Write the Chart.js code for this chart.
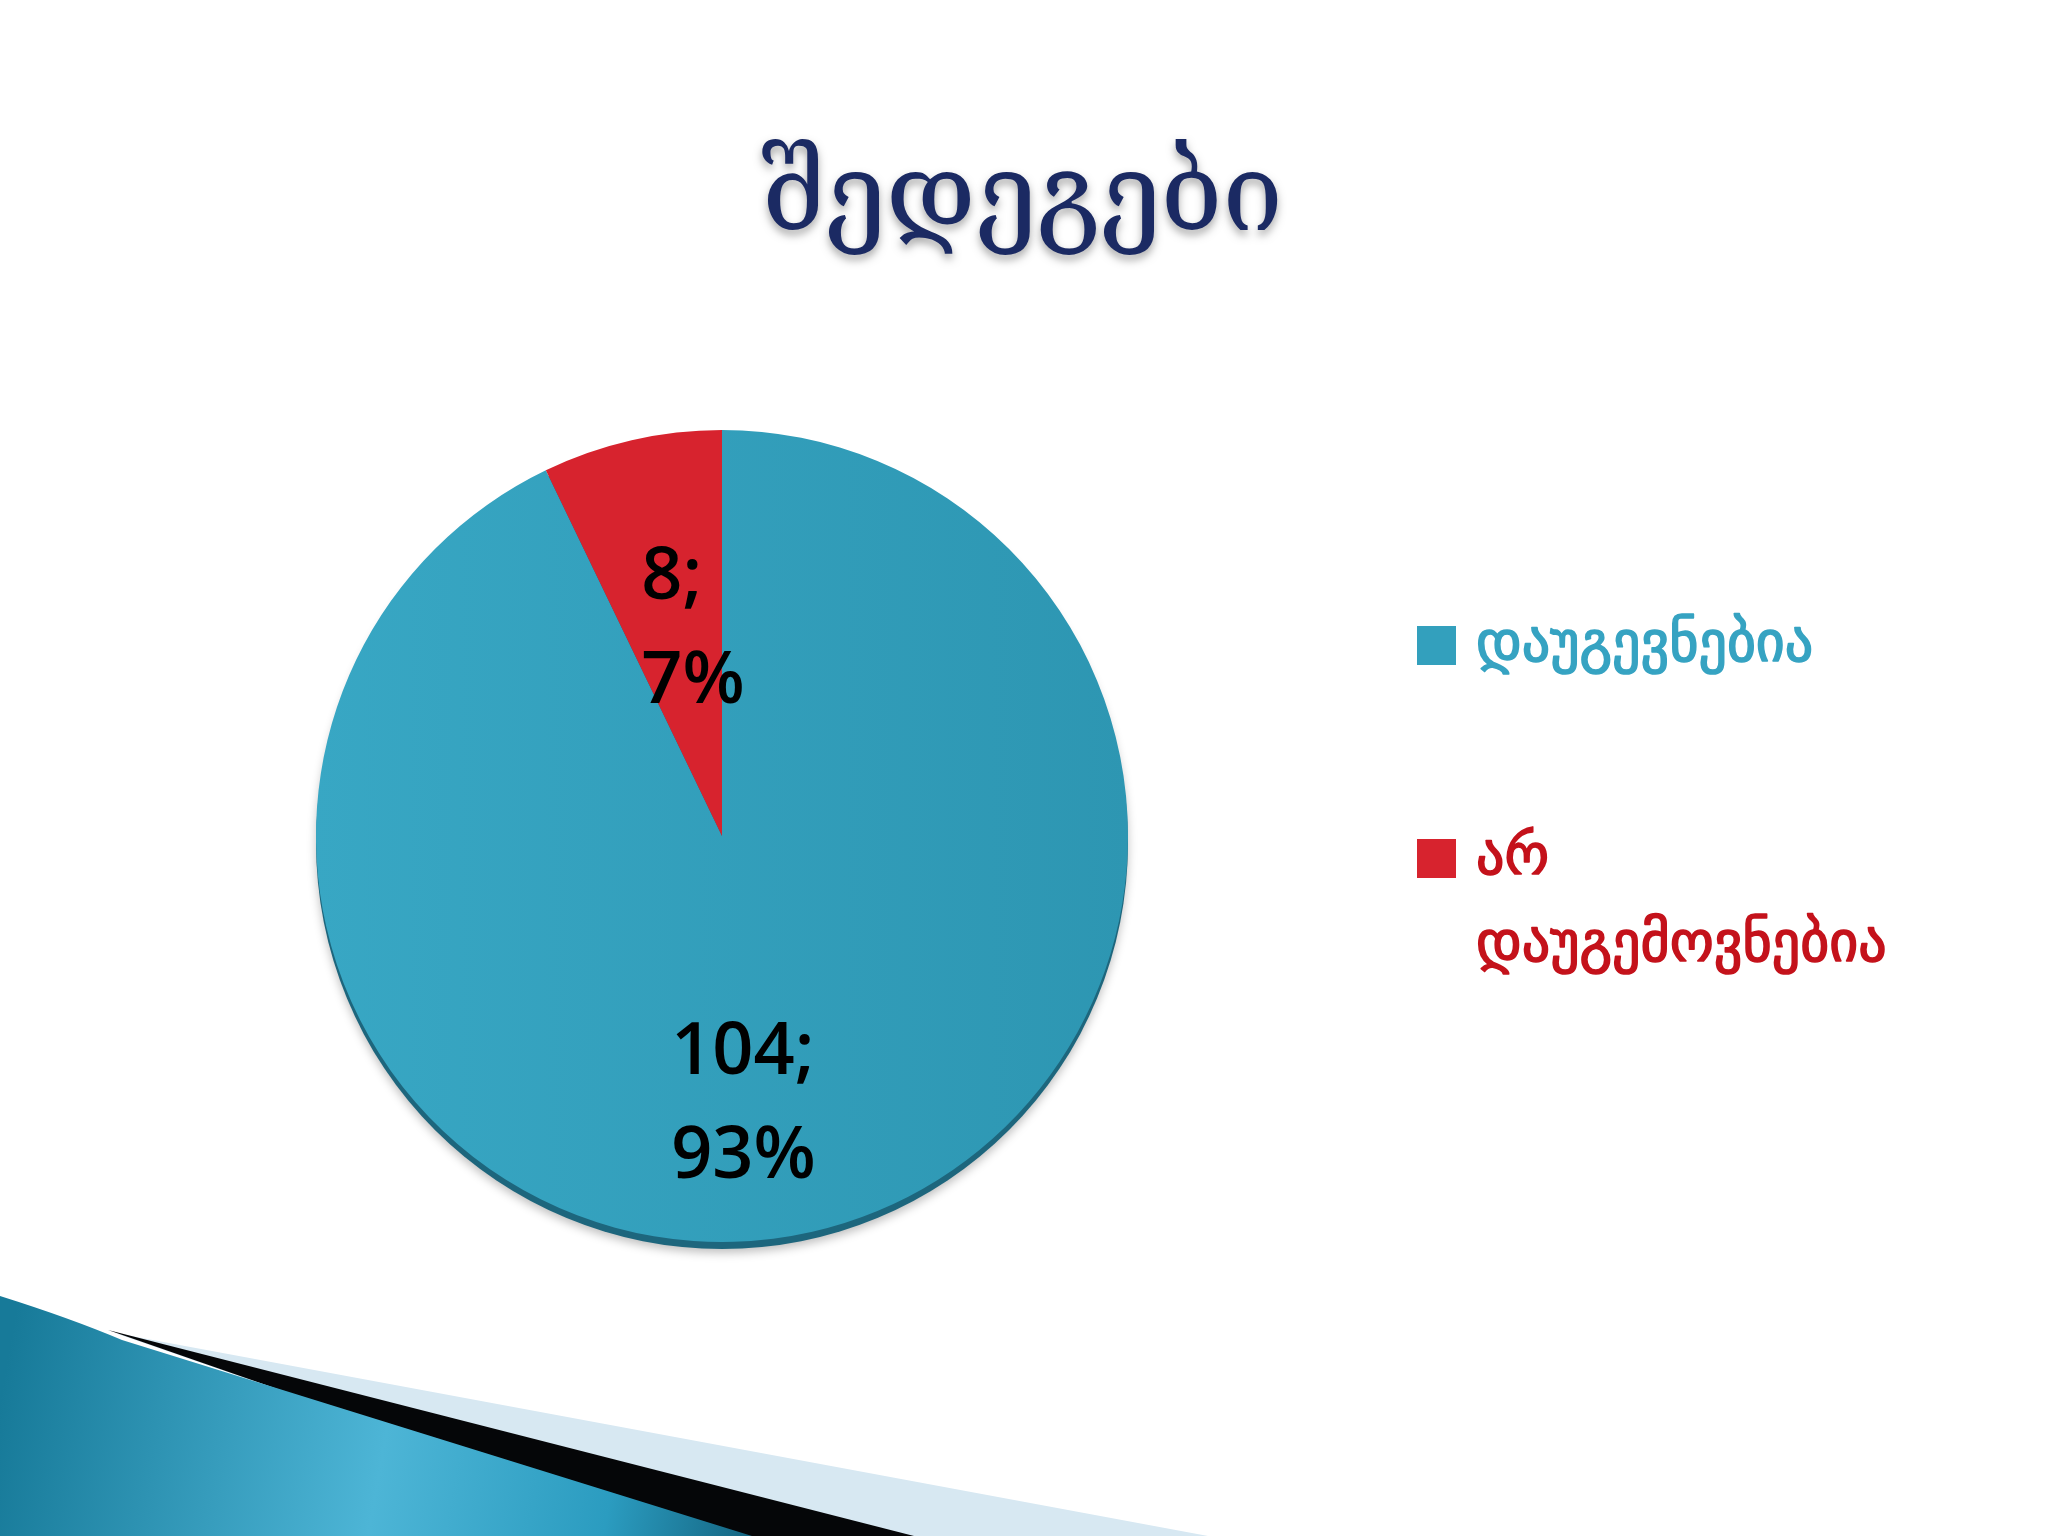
<!DOCTYPE html>
<html>
<head>
<meta charset="utf-8">
<script src="https://cdn.jsdelivr.net/npm/chart.js@4.4.1/dist/chart.umd.min.js"></script>
<style>
  html, body { margin: 0; padding: 0; background: #fff; }
  #wrap { width: 2048px; height: 1536px; position: relative; }
</style>
</head>
<body>
<div id="wrap"><canvas id="chart"></canvas></div>
<script>
// slide data
const titleText = 'შედეგები';
const categories = ['დაუგევნებია', 'არ დაუგემოვნებია'];
const counts = [104, 8];
const sliceColors = ['#33a0bd', '#d7232e'];
const legendTextColors = ['#36a3c2', '#c4121b'];

// label placement along each slice's middle angle (fraction of radius) + x nudge
const labelRadius = [0.68, 0.52];
const labelNudgeX = [-40, 18];

const total = counts.reduce((a, b) => a + b, 0);
const percents = counts.map(v => Math.round(v / total * 100));

const slideDecor = {
    id: 'slideDecor',
    beforeDraw(chart) {
        const ctx = chart.ctx;
        ctx.save();
        ctx.fillStyle = '#ffffff';
        ctx.fillRect(0, 0, chart.width, chart.height);

        // light blue stripe
        ctx.fillStyle = '#d7e8f2';
        ctx.beginPath();
        ctx.moveTo(115, 1333);
        ctx.lineTo(1208, 1536);
        ctx.lineTo(700, 1536);
        ctx.closePath();
        ctx.fill();

        // black stripe
        ctx.fillStyle = '#050608';
        ctx.beginPath();
        ctx.moveTo(108, 1330);
        ctx.lineTo(914, 1536);
        ctx.lineTo(700, 1536);
        ctx.closePath();
        ctx.fill();

        // teal wedge
        const g = ctx.createLinearGradient(0, 1400, 760, 1536);
        g.addColorStop(0, '#177a99');
        g.addColorStop(0.5, '#4db5d6');
        g.addColorStop(0.8, '#2b9cc0');
        g.addColorStop(1, '#13627e');
        ctx.fillStyle = g;
        ctx.beginPath();
        ctx.moveTo(0, 1296);
        ctx.quadraticCurveTo(70, 1318, 122, 1340);
        ctx.lineTo(752, 1536);
        ctx.lineTo(0, 1536);
        ctx.closePath();
        ctx.fill();

        // title
        ctx.font = '108px "DejaVu Serif", "DejaVu Sans"';
        ctx.textAlign = 'center';
        ctx.textBaseline = 'alphabetic';
        ctx.shadowColor = 'rgba(0,0,0,0.35)';
        ctx.shadowBlur = 8;
        ctx.shadowOffsetY = 5;
        ctx.fillStyle = '#1b2a63';
        ctx.fillText(titleText, 1022, 230);
        ctx.restore();
    },
    beforeDatasetsDraw(chart) {
        // darker rim under the pie
        const arc = chart.getDatasetMeta(0).data[0];
        const ctx = chart.ctx;
        ctx.save();
        ctx.shadowColor = 'rgba(0,0,0,0.25)';
        ctx.shadowBlur = 10;
        ctx.shadowOffsetY = 4;
        ctx.fillStyle = '#1d667d';
        ctx.beginPath();
        ctx.arc(arc.x, arc.y + 7, arc.outerRadius, 0, Math.PI * 2);
        ctx.fill();
        ctx.restore();
    },
    afterDatasetsDraw(chart) {
        const ctx = chart.ctx;
        ctx.save();
        ctx.font = '600 72px "Open Sans"';
        ctx.fillStyle = '#000';
        ctx.textAlign = 'left';
        ctx.textBaseline = 'middle';
        chart.getDatasetMeta(0).data.forEach((arc, i) => {
            const mid = (arc.startAngle + arc.endAngle) / 2;
            const r = arc.outerRadius * labelRadius[i];
            const x = arc.x + Math.cos(mid) * r + labelNudgeX[i];
            const y = arc.y + Math.sin(mid) * r;
            const lines = [counts[i] + ';', percents[i] + '%'];
            const w = Math.max(...lines.map(s => ctx.measureText(s).width));
            const lh = 104;
            lines.forEach((s, k) => {
                ctx.fillText(s, x - w / 2, y + (k - 0.5) * lh);
            });
        });
        ctx.restore();
    },
    afterDraw(chart) {
        // legend on the right
        const ctx = chart.ctx;
        ctx.save();
        ctx.font = '56px "DejaVu Sans"';
        ctx.textAlign = 'left';
        ctx.textBaseline = 'alphabetic';
        ctx.lineWidth = 1.6;
        ctx.lineJoin = 'round';
        const boxX = 1417, box = 39, textX = 1476;
        const itemTops = [661, 874];
        categories.forEach((label, i) => {
            const base = itemTops[i];
            ctx.fillStyle = sliceColors[i];
            ctx.fillRect(boxX, base - 35, box, box);
            ctx.fillStyle = legendTextColors[i];
            ctx.strokeStyle = legendTextColors[i];
            label.split(' ').forEach((part, k) => {
                ctx.fillText(part, textX, base + k * 87);
                ctx.strokeText(part, textX, base + k * 87);
            });
        });
        ctx.restore();
    }
};

new Chart(document.getElementById('chart'), {
    type: 'pie',
    data: {
        labels: categories,
        datasets: [{
            data: counts,
            backgroundColor: (c) => {
                if (c.dataIndex === 1) return sliceColors[1];
                const a = c.chart.chartArea;
                if (!a) return sliceColors[0];
                const g = c.chart.ctx.createLinearGradient(a.left, 0, a.right, 0);
                g.addColorStop(0, '#38a7c4');
                g.addColorStop(1, '#2d96b2');
                return g;
            },
            borderWidth: 0
        }]
    },
    options: {
        responsive: true,
        maintainAspectRatio: false,
        animation: false,
        layout: {
            padding: { left: 312, right: 916, top: 430, bottom: 294 }
        },
        plugins: {
            legend: { display: false },
            tooltip: { enabled: false }
        }
    },
    plugins: [slideDecor]
});
</script>
</body>
</html>
